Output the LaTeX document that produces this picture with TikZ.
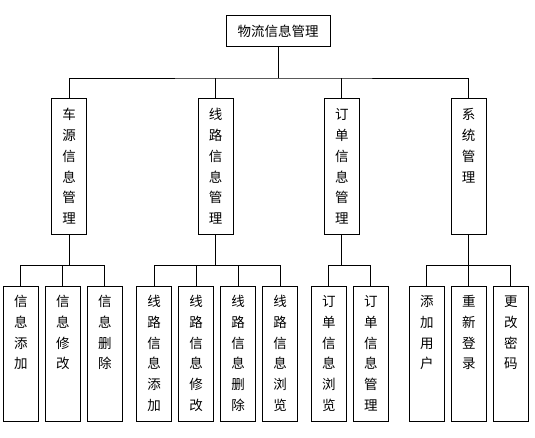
\documentclass[tikz,border=0pt]{standalone}
\usepackage{fontspec}
\newfontfamily\cjk{Noto Sans CJK SC}
\newcommand\mycol[3]{\parbox[c][#1][t]{35pt}{\centering\rule{0pt}{#2}#3}}
\begin{document}
\begin{tikzpicture}[x=1pt,y=-1pt,
  box/.style={draw,line width=0.9pt,inner sep=0pt,font=\cjk\fontsize{13.5pt}{20.7pt}\selectfont},
  conn/.style={line width=0.9pt}]
\useasboundingbox[fill=white] (0,0) rectangle (535,438);
% root
\node[box,minimum width=104pt,minimum height=31.5pt] (top) at (278,31) {物流信息管理};
% level 2
\node[box] (A) at (69.2,166) {\mycol{136pt}{22pt}{车\\源\\信\\息\\管\\理}};
\node[box] (B) at (215.5,166) {\mycol{136pt}{22pt}{线\\路\\信\\息\\管\\理}};
\node[box] (C) at (341.8,166) {\mycol{136pt}{22pt}{订\\单\\信\\息\\管\\理}};
\node[box] (D) at (468.5,166) {\mycol{136pt}{22pt}{系\\统\\管\\理}};
% level 3
\node[box] (g1) at (20.8,354.2) {\mycol{135pt}{20pt}{信\\息\\添\\加}};
\node[box] (g2) at (62.8,354.2) {\mycol{135pt}{20pt}{信\\息\\修\\改}};
\node[box] (g3) at (104.8,354.2) {\mycol{135pt}{20pt}{信\\息\\删\\除}};
\node[box] (g4) at (154.2,354.2) {\mycol{135pt}{20pt}{线\\路\\信\\息\\添\\加}};
\node[box] (g5) at (196.2,354.2) {\mycol{135pt}{20pt}{线\\路\\信\\息\\修\\改}};
\node[box] (g6) at (238.2,354.2) {\mycol{135pt}{20pt}{线\\路\\信\\息\\删\\除}};
\node[box] (g7) at (280,354.2) {\mycol{135pt}{20pt}{线\\路\\信\\息\\浏\\览}};
\node[box] (g8) at (328.8,354.2) {\mycol{135pt}{20pt}{订\\单\\信\\息\\浏\\览}};
\node[box] (g9) at (370.8,354.2) {\mycol{135pt}{20pt}{订\\单\\信\\息\\管\\理}};
\node[box] (g10) at (426.8,354.2) {\mycol{135pt}{20pt}{添\\加\\用\\户}};
\node[box] (g11) at (468.8,354.2) {\mycol{135pt}{20pt}{重\\新\\登\\录}};
\node[box] (g12) at (510.8,354.2) {\mycol{135pt}{20pt}{更\\改\\密\\码}};
% connectors level 1
\coordinate (bus1) at (278,78);
\draw[conn] (top.south) -- (bus1);
\draw[conn] (A.north) |- (bus1) -| (D.north);
\draw[conn] (B.north) -- (B.north |- bus1);
\draw[conn] (C.north) -- (C.north |- bus1);
% group A
\draw[conn] (A.south) -- ++(0,31) coordinate (busA);
\draw[conn] (g1.north) |- (busA) -| (g3.north);
\draw[conn] (g2.north) -- (g2.north |- busA);
% group B
\draw[conn] (B.south) -- ++(0,31) coordinate (busB);
\draw[conn] (g4.north) |- (busB) -| (g7.north);
\draw[conn] (g5.north) -- (g5.north |- busB);
\draw[conn] (g6.north) -- (g6.north |- busB);
% group C
\draw[conn] (C.south) -- ++(0,31) coordinate (busC);
\draw[conn] (g8.north) |- (busC) -| (g9.north);
% group D
\draw[conn] (D.south) -- ++(0,31) coordinate (busD);
\draw[conn] (g10.north) |- (busD) -| (g12.north);
\draw[conn] (g11.north) -- (g11.north |- busD);
\end{tikzpicture}
\end{document}
